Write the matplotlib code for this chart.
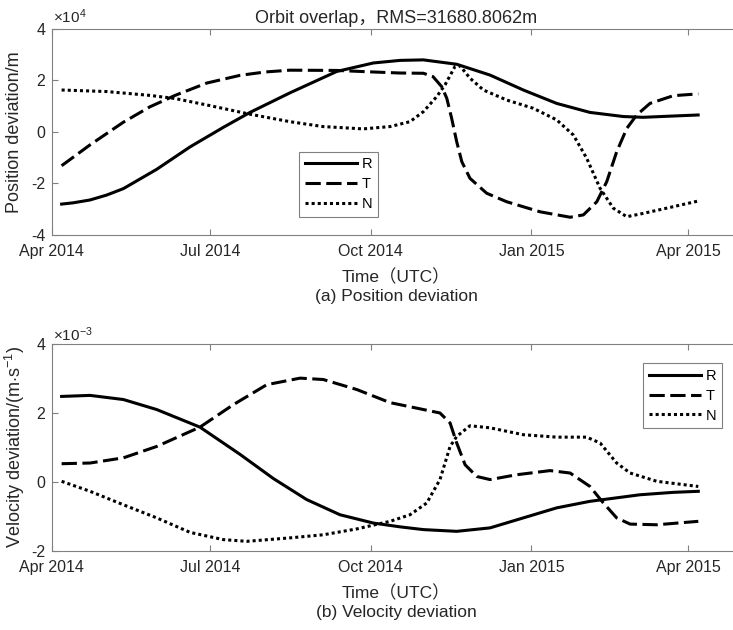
import numpy as np
import matplotlib
matplotlib.use('Agg')
import matplotlib.pyplot as plt
import matplotlib.dates as mdates

plt.rcParams['font.family'] = ['Liberation Sans', 'Noto Sans CJK SC']
plt.rcParams['axes.unicode_minus'] = False
plt.rcParams['mathtext.fontset'] = 'custom'
plt.rcParams['mathtext.rm'] = 'Liberation Sans'
plt.rcParams['mathtext.it'] = 'Liberation Sans'

# giorni dal 2014-04-01
t0 = np.datetime64('2014-04-01T00:00')

# (a) deviazione di posizione, x1e4 m
pos_R_days = [5.7, 12.4, 22.0, 31.5, 41.1, 60.2, 79.3, 98.4, 113.7, 136.6, 163.4, 184.4,
              199.7, 213.1, 232.2, 251.3, 270.4, 289.5, 308.6, 327.7, 339.0, 356.2, 370.6]
pos_R = [-2.80, -2.75, -2.64, -2.45, -2.20, -1.45, -0.58, 0.18, 0.76, 1.52, 2.35, 2.68,
         2.78, 2.80, 2.63, 2.21, 1.63, 1.11, 0.76, 0.60, 0.57, 0.62, 0.66]

pos_T_days = [5.7, 22.0, 41.1, 56.4, 70.7, 88.9, 108.0, 122.3, 136.6, 163.4, 184.4,
              199.7, 213.1, 218.6, 223.6, 226.5, 229.3, 232.2, 235.1, 239.8, 249.4,
              260.9, 280.0, 297.2, 304.8, 312.5, 318.2, 323.9, 329.7, 335.4, 343.0,
              356.4, 370.7]
pos_T = [-1.31, -0.50, 0.38, 0.98, 1.42, 1.90, 2.20, 2.33, 2.40, 2.39, 2.33,
         2.29, 2.28, 2.15, 1.76, 1.31, 0.53, -0.38, -1.15, -1.80, -2.38,
         -2.71, -3.10, -3.31, -3.22, -2.71, -1.93, -0.77, 0.14, 0.66, 1.11,
         1.41, 1.48]

pos_N_days = [5.7, 31.5, 56.4, 70.7, 88.9, 113.7, 136.6, 155.6, 178.5, 194.0, 205.4,
              213.1, 220.7, 225.5, 231.2, 234.1, 239.8, 247.5, 260.9, 276.1, 289.5,
              299.1, 306.7, 314.4, 322.0, 329.7, 339.2, 356.4, 370.7]
pos_N = [1.63, 1.57, 1.42, 1.30, 1.05, 0.69, 0.40, 0.21, 0.12, 0.21, 0.40,
         0.79, 1.37, 1.83, 2.54, 2.57, 2.09, 1.63, 1.24, 0.92, 0.47,
         -0.12, -1.02, -2.19, -2.96, -3.29, -3.16, -2.90, -2.68]

# (b) deviazione di velocita', x1e-3 m/s
vel_R_days = [5.7, 22.0, 41.1, 60.2, 85.0, 108.0, 127.1, 146.2, 165.3, 184.4, 199.7,
              213.1, 232.2, 251.3, 270.4, 289.5, 308.6, 337.3, 356.4, 370.7]
vel_R = [2.48, 2.51, 2.39, 2.10, 1.59, 0.80, 0.10, -0.51, -0.95, -1.19, -1.30,
         -1.38, -1.43, -1.33, -1.04, -0.75, -0.56, -0.37, -0.30, -0.27]

vel_T_days = [5.7, 22.0, 41.1, 60.2, 85.0, 104.1, 123.3, 142.4, 155.7, 174.9, 194.0,
              209.3, 222.6, 228.4, 232.2, 237.0, 243.7, 251.3, 266.6, 285.7, 297.2,
              308.6, 316.3, 323.9, 331.6, 346.9, 370.7]
vel_T = [0.53, 0.55, 0.70, 1.03, 1.59, 2.24, 2.82, 3.01, 2.97, 2.68, 2.30,
         2.14, 2.00, 1.71, 1.13, 0.50, 0.16, 0.07, 0.21, 0.33, 0.26,
         -0.13, -0.61, -1.04, -1.22, -1.24, -1.14]

vel_N_days = [5.7, 22.0, 41.1, 60.2, 79.3, 98.4, 111.8, 136.6, 155.7, 174.9, 194.0,
              205.4, 215.0, 222.6, 228.4, 232.2, 239.8, 251.3, 270.4, 289.5, 306.7,
              314.4, 323.9, 331.6, 346.9, 370.7]
vel_N = [0.02, -0.27, -0.66, -1.04, -1.46, -1.67, -1.72, -1.62, -1.53, -1.36, -1.14,
         -0.95, -0.61, 0.07, 1.03, 1.32, 1.63, 1.57, 1.37, 1.30, 1.30,
         1.13, 0.55, 0.26, 0.02, -0.13]


def to_dates(days):
    return t0 + (np.array(days) * 1440).astype('timedelta64[m]')


gray = '#808080'
txt = '#262626'
lw = 2.2
ls_R = '-'
ls_T = (0, (5, 1.8))
ls_N = (0, (1, 1))

fig = plt.figure(figsize=(7.33, 6.3), dpi=100)
ax1 = fig.add_axes([0.0705, 0.627, 0.94, 0.327])
ax2 = fig.add_axes([0.0705, 0.1254, 0.94, 0.3286])

ax1.plot(to_dates(pos_R_days), pos_R, color='k', lw=lw, ls=ls_R, label='R')
ax1.plot(to_dates(pos_T_days), pos_T, color='k', lw=lw, ls=ls_T, label='T')
ax1.plot(to_dates(pos_N_days), pos_N, color='k', lw=lw, ls=ls_N, label='N')

ax2.plot(to_dates(vel_R_days), vel_R, color='k', lw=lw, ls=ls_R, label='R')
ax2.plot(to_dates(vel_T_days), vel_T, color='k', lw=lw, ls=ls_T, label='T')
ax2.plot(to_dates(vel_N_days), vel_N, color='k', lw=lw, ls=ls_N, label='N')

for ax in (ax1, ax2):
    ax.set_xlim(np.datetime64('2014-04-01'), np.datetime64('2015-05-01'))
    ax.xaxis.set_major_locator(mdates.MonthLocator(bymonth=[1, 4, 7, 10]))
    ax.xaxis.set_major_formatter(mdates.DateFormatter('%b %Y'))
    for s in ax.spines.values():
        s.set_color(gray)
        s.set_linewidth(0.8)
    ax.spines['right'].set_visible(False)
    ax.tick_params(direction='in', length=4.5, width=0.8, color=gray,
                   labelcolor=txt, labelsize=11.5, top=True, right=False)
    ax.tick_params(axis='x', pad=6.5)
    ax.tick_params(axis='y', pad=4.5)

ax1.set_ylim(-4, 4)
ax1.set_yticks([-4, -2, 0, 2, 4])
ax2.set_ylim(-2, 4)
ax2.set_yticks([-2, 0, 2, 4])

# testi
ax1.text(0.5, 1 + 6.3 / 206, 'Orbit overlap，RMS=31680.8062m', transform=ax1.transAxes,
         ha='center', va='baseline', fontsize=13, color=txt)
ax1.text(0.0015, 1 + 5.7 / 206, r'$\times10^{4}$', transform=ax1.transAxes,
         ha='left', va='baseline', fontsize=11, color=txt)
ax2.text(0.0015, 1 + 3.3 / 207, r'$\times10^{-3}$', transform=ax2.transAxes,
         ha='left', va='baseline', fontsize=11, color=txt)

ax1.set_ylabel('Position deviation/m', fontsize=13, color=txt)
ax2.set_ylabel(r'Velocity deviation/(m$\cdot$s$^{-1}$)', fontsize=13, color=txt)
for ax in (ax1, ax2):
    ax.yaxis.label.set_va('center')
    ax.yaxis.set_label_coords(-0.0535, 0.5)
    ax.set_xlabel('Time（UTC）', fontsize=12.5, color=txt)
    ax.xaxis.label.set_va('baseline')

ax1.xaxis.set_label_coords(0.5, -47.3 / 206)
ax2.xaxis.set_label_coords(0.5, -47.3 / 207)
ax1.text(0.5, -66.3 / 206, '(a) Position deviation', transform=ax1.transAxes,
         ha='center', va='baseline', fontsize=12.5, color=txt)
ax2.text(0.5, -66.3 / 207, '(b) Velocity deviation', transform=ax2.transAxes,
         ha='center', va='baseline', fontsize=12.5, color=txt)

leg_kw = dict(fontsize=10.5, handlelength=3.6, handletextpad=0.3, borderpad=0.4,
              labelspacing=0.4, fancybox=False, framealpha=1, edgecolor=gray,
              borderaxespad=0)
l1 = ax1.legend(loc='lower left', bbox_to_anchor=(0.359, 0.0874), **leg_kw)
l2 = ax2.legend(loc='upper left', bbox_to_anchor=(0.858, 0.908), **leg_kw)
for lg in (l1, l2):
    lg.get_frame().set_linewidth(0.8)

fig.savefig('out.png', dpi=100)
